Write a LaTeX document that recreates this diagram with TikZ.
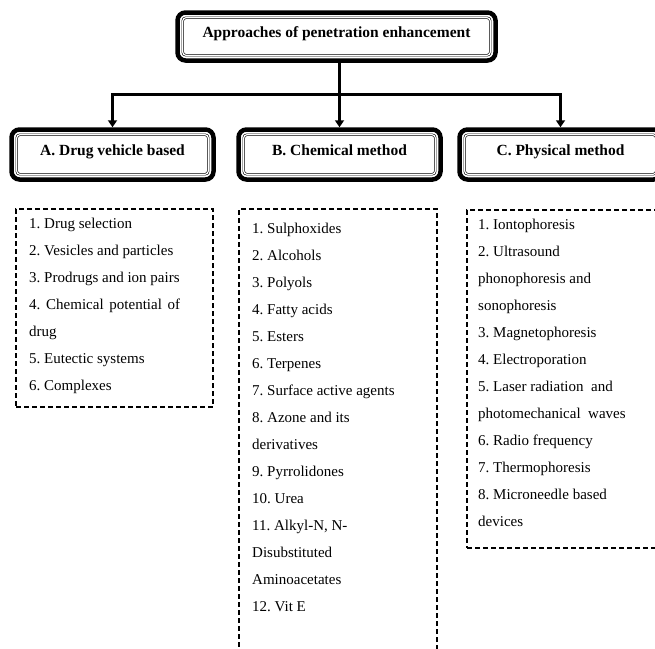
\documentclass[tikz,border=0pt]{standalone}
\usepackage{fontspec}
\setmainfont{Liberation Serif}
\usetikzlibrary{arrows.meta,calc}
\frenchspacing
\begin{document}
\begin{tikzpicture}[x=1pt,y=-1pt,
  hdr/.style={draw, line width=4.5pt, rounded corners=8pt, font=\fontsize{15.5}{18}\selectfont\bfseries, text height=10pt, text depth=8pt, inner sep=0pt},
  innerframe/.style={draw, line width=0.6pt, double, double distance=1.2pt, rounded corners=3pt},
  conn/.style={line width=3pt},
  arr/.style={line width=3pt, -{Triangle[length=7pt,width=9pt]}},
  dbox/.style={draw, line width=1.3pt, dash pattern=on 5pt off 3pt, inner sep=0pt},
  item/.style={anchor=base west, inner sep=0pt, font=\fontsize{15}{18}\selectfont}]
\useasboundingbox (0,0) rectangle (655,648);
\clip (0,0) rectangle (655,648);

% header boxes
\node[hdr, minimum width=318pt, minimum height=48pt] (top) at (336.5,36.5) {Approaches of penetration enhancement};
\node[hdr, minimum width=202pt, minimum height=50pt] (A) at (112.5,154.5) {A. Drug vehicle based};
\node[hdr, minimum width=202pt, minimum height=50pt] (B) at (339.5,154.5) {B. Chemical method};
\node[hdr, minimum width=202pt, minimum height=50pt] (C) at (560.5,154.5) {C. Physical method};
\foreach \n in {top,A,B,C}
  \draw[innerframe] ([shift={(7.5pt,-7.5pt)}]\n.north west) rectangle ([shift={(-7.5pt,7.5pt)}]\n.south east);

% connectors
\coordinate (bus) at (339.5,94.5);
\draw[conn] (top.south -| B.north) -- (bus);
\draw[arr] (bus) -| (A.north);
\draw[arr] (bus) -- (B.north);
\draw[arr] (bus) -| (C.north);

% dashed list boxes
\node[dbox, minimum width=197pt, minimum height=198pt] (LA) at (114.5,308) {};
\node[dbox, minimum width=198pt, minimum height=451pt] (LB) at (338,434.5) {};
\node[dbox, minimum width=203pt, minimum height=338pt] (LC) at (568.5,379) {};

% list A
\foreach [count=\i from 0] \t in {1. Drug selection, 2. Vesicles and particles, 3. Prodrugs and ion pairs, {\makebox[151pt][s]{4. Chemical potential of}}, drug, 5. Eutectic systems, 6. Complexes}
  \node[item] (a\i) at (29,{228+27*\i}) {\t};

% list B
\foreach [count=\i from 0] \t in {1. Sulphoxides, 2. Alcohols, 3. Polyols, 4. Fatty acids, 5. Esters, 6. Terpenes, 7. Surface active agents, 8. Azone and its, derivatives, 9. Pyrrolidones, 10. Urea, {11. Alkyl-N, N-}, Disubstituted, Aminoacetates, 12. Vit E}
  \node[item] (b\i) at (252,{233+27.07*\i}) {\t};

% list C
\foreach [count=\i from 0] \t in {1. Iontophoresis, 2. Ultrasound, phonophoresis and, sonophoresis, 3. Magnetophoresis, 4. Electroporation, 5. Laser radiation\ \ and, photomechanical\ \ waves, 6. Radio frequency, 7. Thermophoresis, 8. Microneedle based, devices}
  \node[item] (c\i) at (478,{229+27*\i}) {\t};
\end{tikzpicture}
\end{document}
